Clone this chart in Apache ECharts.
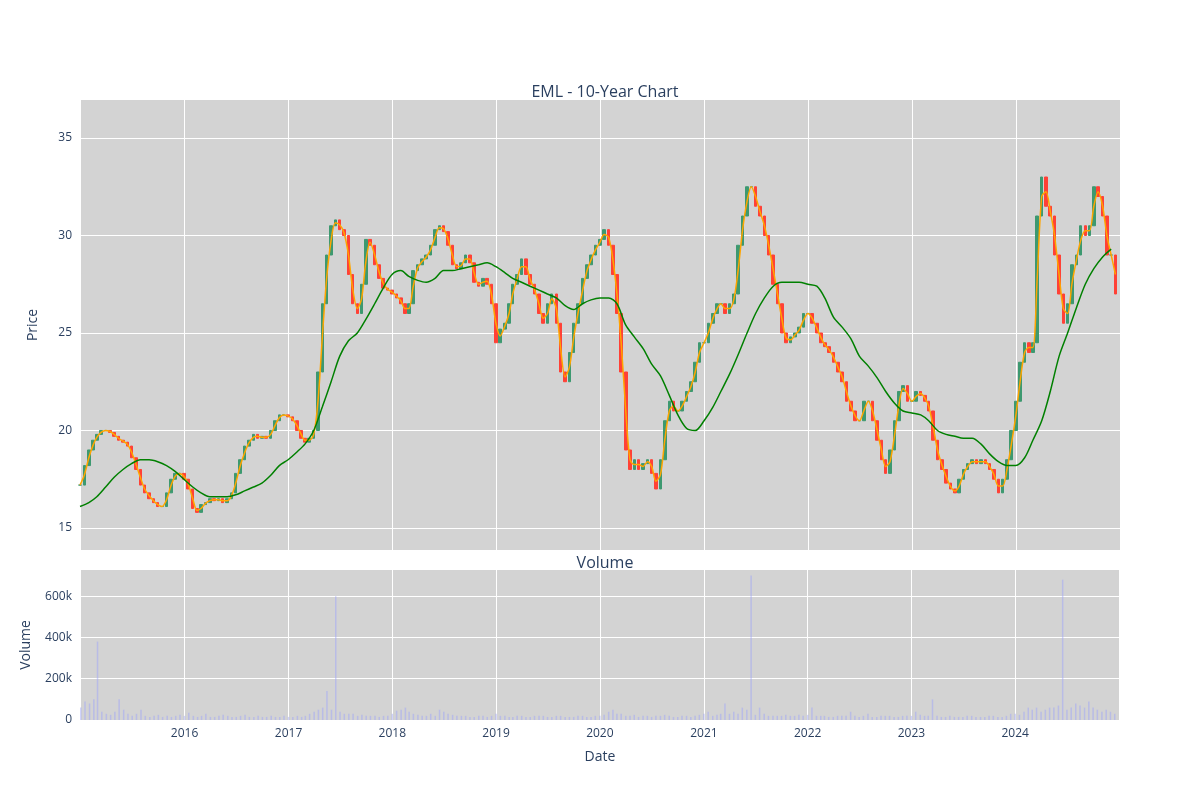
<!DOCTYPE html>
<html><head><meta charset="utf-8">
<script src="https://cdn.jsdelivr.net/npm/echarts@6/dist/echarts.min.js"></script>
<style>html,body{margin:0;padding:0;background:#fff}#c{width:1200px;height:800px}</style>
</head><body><div id="c"></div>
<script>
// semi-monthly closes per year (points on 1st and 16th of each month)
const years = [2015,2016,2017,2018,2019,2020,2021,2022,2023,2024];
const closes = [
 [17.2,18.2,19.0,19.5,19.8,20.0,20.0,19.9,19.7,19.5,19.4,19.2,18.6,18.0,17.2,16.8,16.5,16.3,16.1,16.1,16.8,17.5,17.8,17.8],
 [17.5,17.0,16.0,15.8,16.2,16.3,16.5,16.4,16.5,16.3,16.5,16.8,17.8,18.5,19.2,19.5,19.8,19.6,19.7,19.6,20.0,20.5,20.8,20.8],
 [20.7,20.5,20.0,19.6,19.4,19.6,20.0,23.0,26.5,29.0,30.5,30.8,30.3,30.0,28.0,26.5,26.0,27.5,29.8,29.5,28.5,27.8,27.3,27.2],
 [27.0,26.8,26.5,26.0,26.5,28.2,28.5,28.8,29.0,29.5,30.3,30.5,30.2,29.5,28.5,28.3,28.6,29.0,28.6,27.6,27.4,27.8,27.5,26.5],
 [24.5,25.2,25.5,26.5,27.5,28.0,28.8,28.0,27.5,27.0,26.0,25.5,26.5,27.0,25.5,23.0,22.5,24.0,25.5,26.5,27.8,28.5,29.0,29.5],
 [29.8,30.3,29.5,28.0,26.0,23.0,19.0,18.0,18.5,18.0,18.3,18.5,17.8,17.0,18.5,20.5,21.5,21.0,21.0,21.5,22.0,22.5,23.5,24.5],
 [24.5,25.5,26.0,26.5,26.5,26.0,26.5,27.0,29.5,31.0,32.5,32.5,31.5,31.0,30.0,29.0,27.5,26.5,25.0,24.5,24.8,25.0,25.3,26.0],
 [26.0,25.5,25.0,24.5,24.3,24.0,23.5,23.0,22.5,21.5,21.0,20.5,20.5,21.5,21.5,20.5,19.5,18.5,17.8,19.0,20.5,22.0,22.3,21.5],
 [21.5,22.0,21.8,21.5,21.0,19.5,18.5,18.0,17.3,17.0,16.8,17.5,18.0,18.3,18.5,18.3,18.5,18.3,18.0,17.5,16.8,17.5,18.5,20.0],
 [21.5,23.5,24.5,24.0,24.5,31.0,33.0,31.5,31.0,29.0,27.0,25.5,26.5,28.5,29.0,30.5,30.0,30.5,32.5,32.0,31.0,29.0,29.0,27.0]
];
// semi-monthly volume (thousands)
const volumes = [
 [60,90,80,100,380,40,30,25,40,100,50,30,20,30,50,20,15,20,25,15,20,15,20,25],
 [20,35,20,15,20,30,15,15,20,25,20,15,15,20,25,15,15,20,15,15,20,15,15,20],
 [15,15,20,15,20,30,40,50,60,140,50,600,40,30,30,30,20,25,20,20,20,15,20,20],
 [30,45,50,60,40,30,25,20,20,30,20,50,40,30,25,20,20,20,15,15,20,20,15,20],
 [30,20,20,15,15,20,20,15,15,20,20,20,15,15,20,20,15,15,15,20,20,15,15,20],
 [20,25,40,50,30,30,20,20,25,15,20,20,15,20,20,25,20,15,15,20,20,15,20,25],
 [30,40,20,25,30,80,30,40,30,60,50,700,25,60,30,20,20,20,20,25,20,20,25,20],
 [25,60,20,20,20,15,15,20,20,20,40,20,15,20,30,15,15,20,20,20,15,15,20,20],
 [20,40,25,20,20,100,20,15,15,20,15,15,15,20,20,15,15,15,20,20,15,15,20,30],
 [30,25,40,60,50,60,40,50,60,60,70,680,50,60,80,70,60,90,60,50,40,50,40,30]
];
// long moving average, monthly (first of month) values
const maLong = [
 [16.1,16.3,16.6,17.1,17.6,18.0,18.3,18.5,18.5,18.4,18.2,17.9],
 [17.5,17.1,16.8,16.6,16.6,16.6,16.7,16.9,17.1,17.3,17.7,18.2],
 [18.5,18.9,19.3,20.0,21.2,22.5,23.8,24.6,25.0,25.7,26.5,27.3],
 [28.0,28.2,27.9,27.7,27.6,27.8,28.2,28.2,28.3,28.4,28.5,28.6],
 [28.4,28.1,27.8,27.6,27.4,27.2,27.0,26.8,26.4,26.2,26.5,26.7],
 [26.8,26.8,26.5,25.4,24.8,24.2,23.4,22.8,21.8,20.8,20.1,20.0],
 [20.5,21.2,22.0,22.9,23.9,25.0,26.0,26.8,27.4,27.6,27.6,27.6],
 [27.5,27.4,26.8,25.8,25.3,24.7,23.8,23.3,22.7,22.0,21.4,21.0],
 [20.9,20.8,20.5,20.0,19.8,19.7,19.6,19.6,19.3,18.8,18.4,18.2],
 [18.2,18.6,19.5,20.5,22.0,23.8,25.0,26.3,27.5,28.3,28.9,29.3]
];
const priceTicks = [15, 20, 25, 30, 35];
const volumeTicks = [0, 200000, 400000, 600000];

const pad = n => (n < 10 ? '0' : '') + n;
const candle = [], vol = [], maShort = [], green = [];
let prev = null, recent = [];
years.forEach((y, yi) => {
  closes[yi].forEach((c, i) => {
    const d = y + '-' + pad(Math.floor(i / 2) + 1) + '-' + (i % 2 ? '16' : '01');
    const o = prev === null ? c : prev;
    candle.push([d, o, c, Math.min(o, c), Math.max(o, c)]);
    vol.push([d, volumes[yi][i] * 1000]);
    recent.push(c); if (recent.length > 2) recent.shift();
    maShort.push([d, recent.reduce((a, b) => a + b, 0) / recent.length]);
    prev = c;
  });
  maLong[yi].forEach((v, m) => green.push([y + '-' + pad(m + 1) + '-01', v]));
});

const YEAR = 365.25 * 86400000;
const font = 'Open Sans';
const txt = '#2a3f5f';
const chart = echarts.init(document.getElementById('c'));
const xBase = {
  type: 'time', min: '2015-01-01', max: '2025-01-01',
  minInterval: YEAR * 0.99, maxInterval: YEAR * 1.01,
  axisLine: { show: false }, axisTick: { show: false },
  splitLine: { show: true, lineStyle: { color: '#fff', width: 1 } }
};
const lbl = { color: txt, fontSize: 12, fontFamily: font };
chart.setOption({
  textStyle: { fontFamily: font },
  title: [
    { text: 'EML - 10-Year Chart', left: 600, top: 79, textAlign: 'center', textStyle: { fontSize: 16, fontWeight: 'normal', color: txt, fontFamily: font } },
    { text: 'Volume', left: 600, top: 550, textAlign: 'center', textStyle: { fontSize: 16, fontWeight: 'normal', color: txt, fontFamily: font } }
  ],
  grid: [
    { left: 80, right: 80, top: 100, height: 450, backgroundColor: '#d3d3d3', show: true, borderWidth: 0 },
    { left: 80, right: 80, top: 570, height: 150, backgroundColor: '#d3d3d3', show: true, borderWidth: 0 }
  ],
  xAxis: [
    Object.assign({}, xBase, { gridIndex: 0, axisLabel: { show: false } }),
    Object.assign({}, xBase, { gridIndex: 1, name: 'Date', nameLocation: 'middle', nameGap: 30,
      nameTextStyle: { color: txt, fontSize: 14, fontFamily: font },
      axisLabel: Object.assign({}, lbl, { formatter: v => { const y = new Date(v).getFullYear(); return (y <= 2015 || y >= 2025) ? '' : String(y); } }) })
  ],
  yAxis: [
    { gridIndex: 0, min: 13.87, max: 36.95, name: 'Price', nameLocation: 'middle', nameGap: 40,
      nameTextStyle: { color: txt, fontSize: 14, fontFamily: font },
      axisLine: { show: false }, axisTick: { show: false, customValues: priceTicks },
      axisLabel: Object.assign({}, lbl, { customValues: priceTicks }),
      splitLine: { lineStyle: { color: '#fff' } } },
    { gridIndex: 1, min: 0, max: 727000, name: 'Volume', nameLocation: 'middle', nameGap: 47,
      nameTextStyle: { color: txt, fontSize: 14, fontFamily: font },
      axisLine: { show: false }, axisTick: { show: false, customValues: volumeTicks },
      axisLabel: Object.assign({}, lbl, { customValues: volumeTicks, formatter: v => v === 0 ? '0' : (v / 1000) + 'k' }),
      splitLine: { lineStyle: { color: '#fff' } } }
  ],
  series: [
    { type: 'candlestick', xAxisIndex: 0, yAxisIndex: 0, data: candle, barWidth: 3,
      itemStyle: { color: '#3D9970', color0: '#FF4136', borderColor: '#3D9970', borderColor0: '#FF4136', borderWidth: 1 } },
    { type: 'line', xAxisIndex: 0, yAxisIndex: 0, data: maShort, showSymbol: false, smooth: 0.3,
      lineStyle: { color: 'orange', width: 1.5 } },
    { type: 'line', xAxisIndex: 0, yAxisIndex: 0, data: green, showSymbol: false, smooth: 0.3,
      lineStyle: { color: 'green', width: 1.5 } },
    { type: 'bar', xAxisIndex: 1, yAxisIndex: 1, data: vol, barWidth: 1.5,
      itemStyle: { color: 'rgba(160,165,250,0.5)' } }
  ]
});
</script></body></html>
